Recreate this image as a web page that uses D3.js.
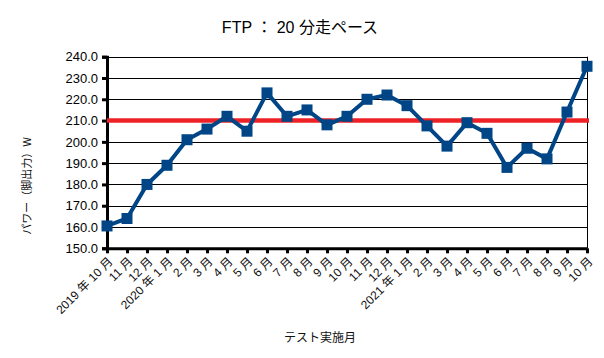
<!DOCTYPE html>
<html><head><meta charset="utf-8">
<script src="https://cdn.jsdelivr.net/npm/d3@7"></script>
<style>
html,body{margin:0;padding:0;background:#fff;}
svg{display:block;font-family:"Liberation Sans","Noto Sans CJK JP",sans-serif;}
</style></head>
<body>
<svg id="chart" width="604" height="358"></svg>
<script>
const categories = ["2019 年 10 月","11 月","12 月","2020 年 1 月","2 月","3 月","4 月","5 月","6 月","7 月","8 月","9 月","10 月","11 月","12 月","2021 年 1 月","2 月","3 月","4 月","5 月","6 月","7 月","8 月","9 月","10 月"];
const power = [160.5,164,180,189,201,206,212,205,223,212,215,208,212,220,222,217,207.5,198,209,204,188,197,192,214,235.5];
const ftpLine = [210];
const yTicks = [150,160,170,180,190,200,210,220,230,240];
const titleText = "FTP ： 20 分走ペース";
const xTitle = "テスト実施月";
const yTitle = "パワー（脚出力）W";

const svg = d3.select("#chart");
const L = 107, R = 587, T = 56.7, B = 248.3;
const x = d3.scalePoint().domain(d3.range(categories.length)).range([L, R]).padding(0);
const y = d3.scaleLinear().domain([150, 240]).range([B, T]);

// gridlines
svg.append("g").selectAll("line").data(yTicks).join("line")
  .attr("x1", L).attr("x2", R).attr("y1", d => Math.round(y(d)) + 0.5).attr("y2", d => Math.round(y(d)) + 0.5)
  .attr("stroke", "#000").attr("stroke-width", 1);
// right border
svg.append("line").attr("x1", R + 0.5).attr("x2", R + 0.5).attr("y1", y(240)).attr("y2", y(150))
  .attr("stroke", "#000").attr("stroke-width", 1);

// y axis
const yAxis = svg.append("g").attr("transform", `translate(${L},0)`)
  .call(d3.axisLeft(y).tickValues(yTicks).tickFormat(d3.format(".1f")).tickSize(5).tickPadding(4));
yAxis.select(".domain").attr("stroke", "#000").attr("stroke-width", 3);
yAxis.selectAll(".tick line").attr("stroke", "#000").attr("stroke-width", 3);
yAxis.selectAll(".tick text").attr("font-size", 13).attr("fill", "#000")
  .attr("font-family", "Liberation Sans, sans-serif");

// x axis
const xAxis = svg.append("g").attr("transform", `translate(0,${B})`)
  .call(d3.axisBottom(x).tickFormat(i => categories[i]).tickSize(5).tickSizeOuter(0));
xAxis.select(".domain").attr("stroke", "#000").attr("stroke-width", 3);
xAxis.selectAll(".tick line").attr("stroke", "#000").attr("stroke-width", 3);
xAxis.selectAll(".tick text")
  .attr("font-size", 12).attr("fill", "#111")
  .attr("font-family", "Liberation Sans, Noto Sans CJK JP, sans-serif")
  .attr("text-anchor", "end")
  .attr("dy", null).attr("y", 0)
  .attr("transform", "translate(6,14) rotate(-45)");

// FTP line
svg.append("g").selectAll("line").data(ftpLine).join("line")
  .attr("x1", L).attr("x2", R + 2).attr("y1", d => y(d)).attr("y2", d => y(d))
  .attr("stroke", "#ee2226").attr("stroke-width", 4.5);

// series
const line = d3.line().x((d, i) => x(i)).y(d => y(d));
svg.append("path").datum(power).attr("d", line)
  .attr("fill", "none").attr("stroke", "#004586").attr("stroke-width", 4).attr("stroke-linejoin", "round");
svg.append("g").selectAll("rect").data(power).join("rect")
  .attr("x", (d, i) => x(i) - 5.5).attr("y", d => y(d) - 5.5)
  .attr("width", 11).attr("height", 11).attr("fill", "#004586");

// titles
svg.append("text").attr("x", 300).attr("y", 33).attr("text-anchor", "middle")
  .attr("font-size", 16).attr("fill", "#000")
  .attr("font-family", "Liberation Sans, Noto Sans CJK JP, sans-serif").text(titleText);
svg.append("text").attr("x", 320).attr("y", 342).attr("text-anchor", "middle")
  .attr("font-size", 12).attr("fill", "#111")
  .attr("font-family", "Noto Sans CJK JP, sans-serif").text(xTitle);
svg.append("text").attr("transform", "translate(31,186) rotate(-90)").attr("text-anchor", "middle")
  .attr("font-size", 11).attr("fill", "#111")
  .attr("font-family", "Noto Sans CJK JP, sans-serif").text(yTitle);
</script>
</body></html>
